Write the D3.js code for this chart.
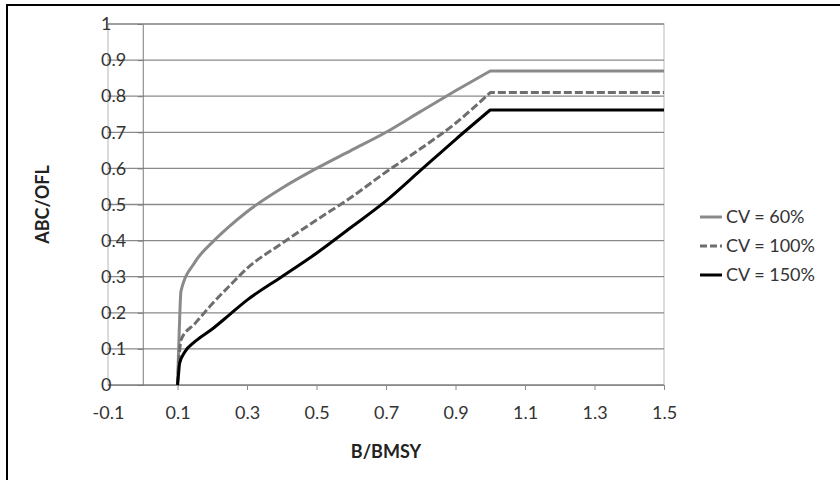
<!DOCTYPE html>
<html>
<head>
<meta charset="utf-8">
<script src="https://cdn.jsdelivr.net/npm/d3@7"></script>
<style>
  body { margin: 0; background: #fff; }
  text { font-family: Lato, "Open Sans", sans-serif; }
</style>
</head>
<body>
<div id="chart"></div>
<script>
// data
var seriesNames = ["CV = 60%", "CV = 100%", "CV = 150%"];

var cv60X = [0.1, 0.105, 0.11, 0.15, 0.2, 0.25, 0.3, 0.4, 0.5, 0.6, 0.7, 0.8, 0.9, 1.0, 1.5];
var cv60Y = [0, 0.15, 0.26, 0.34, 0.395, 0.44, 0.48, 0.545, 0.6, 0.65, 0.70, 0.758, 0.815, 0.87, 0.87];

var cv100X = [0.1, 0.105, 0.11, 0.15, 0.2, 0.25, 0.3, 0.4, 0.5, 0.6, 0.7, 0.8, 0.9, 1.0, 1.5];
var cv100Y = [0, 0.08, 0.125, 0.17, 0.225, 0.275, 0.323, 0.392, 0.457, 0.52, 0.59, 0.655, 0.725, 0.81, 0.81];

var cv150X = [0.1, 0.103, 0.106, 0.12, 0.15, 0.2, 0.25, 0.3, 0.4, 0.5, 0.6, 0.7, 0.8, 0.9, 1.0, 1.5];
var cv150Y = [0, 0.03, 0.06, 0.09, 0.12, 0.155, 0.195, 0.235, 0.3, 0.365, 0.437, 0.51, 0.595, 0.68, 0.762, 0.762];

var xTicks = [-0.1, 0.1, 0.3, 0.5, 0.7, 0.9, 1.1, 1.3, 1.5];
var yTicks = [0, 0.1, 0.2, 0.3, 0.4, 0.5, 0.6, 0.7, 0.8, 0.9, 1];

var svgWidth = 840;
var svgHeight = 480;
var fontSize = "18px";

var margin = { top: 24, right: 176, bottom: 95, left: 108 };
var width = svgWidth - margin.left - margin.right;
var height = svgHeight - margin.top - margin.bottom;

var svg = d3.select("#chart")
  .append("svg")
  .attr("width", svgWidth)
  .attr("height", svgHeight);

// outer chart frame (runs off the right and bottom edge)
svg.append("rect")
  .attr("x", 7)
  .attr("y", 5)
  .attr("width", 900)
  .attr("height", 600)
  .attr("fill", "none")
  .attr("stroke", "#000")
  .attr("stroke-width", 2);

var chartGroup = svg.append("g")
  .attr("transform", `translate(${margin.left}, ${margin.top})`);

var xScale = d3.scaleLinear().domain([-0.1, 1.5]).range([0, width]);
var yScale = d3.scaleLinear().domain([0, 1]).range([height, 0]);

// plot area border
chartGroup.append("rect")
  .attr("width", width)
  .attr("height", height)
  .attr("fill", "none")
  .attr("stroke", "#b8b8b8")
  .attr("stroke-width", 1);

// horizontal gridlines
chartGroup.selectAll(".grid")
  .data(yTicks)
  .enter()
  .append("line")
  .attr("class", "grid")
  .attr("x1", 0)
  .attr("x2", width)
  .attr("y1", d => yScale(d))
  .attr("y2", d => yScale(d))
  .attr("stroke", "#8a8a8a")
  .attr("stroke-width", 1.3);

// x axis
var bottomAxis = d3.axisBottom(xScale)
  .tickValues(xTicks)
  .tickSize(5)
  .tickSizeOuter(0)
  .tickFormat(d => String(d));

var xAxisG = chartGroup.append("g")
  .attr("transform", `translate(0, ${height})`)
  .call(bottomAxis);
xAxisG.select(".domain").attr("stroke", "#8a8a8a");
xAxisG.selectAll(".tick line").attr("stroke", "#8a8a8a")
  .filter(d => d < 0).remove();
xAxisG.selectAll(".tick text")
  .attr("y", 21)
  .attr("dy", "0.71em")
  .attr("fill", "#333")
  .style("font-size", fontSize);

// y axis crossing at x = 0, labels left-aligned against the plot edge
var leftAxis = d3.axisLeft(yScale)
  .tickValues(yTicks)
  .tickSize(5)
  .tickSizeOuter(0)
  .tickFormat(d => String(d));

var yAxisG = chartGroup.append("g")
  .attr("transform", `translate(${xScale(0)}, 0)`)
  .call(leftAxis);
yAxisG.select(".domain").attr("stroke", "#7a7a7a");
yAxisG.selectAll(".tick line").attr("stroke", "#7a7a7a");
yAxisG.selectAll(".tick text")
  .attr("x", 101 - margin.left - xScale(0))
  .attr("text-anchor", "start")
  .attr("fill", "#333")
  .style("font-size", fontSize);

// series lines: smooth rise up to B/BMSY = 1, then a flat segment
var seriesData = [
  cv60X.map((x, i) => ({ x: x, y: cv60Y[i] })),
  cv100X.map((x, i) => ({ x: x, y: cv100Y[i] })),
  cv150X.map((x, i) => ({ x: x, y: cv150Y[i] }))
];
var seriesStyle = [
  { color: "#8a8a8a", dash: null },
  { color: "#6e6e6e", dash: "8,3" },
  { color: "#000000", dash: null }
];

var riseLine = d3.line()
  .x(d => xScale(d.x))
  .y(d => yScale(d.y))
  .curve(d3.curveMonotoneX);

function seriesPath(pts) {
  var rise = pts.filter(p => p.x <= 1);
  var flat = pts.filter(p => p.x > 1);
  var d = riseLine(rise);
  flat.forEach(function(p) {
    d += "L" + xScale(p.x) + "," + yScale(p.y);
  });
  return d;
}

chartGroup.selectAll(".series")
  .data(seriesData)
  .enter()
  .append("path")
  .attr("class", "series")
  .attr("d", seriesPath)
  .attr("fill", "none")
  .attr("stroke", (d, i) => seriesStyle[i].color)
  .attr("stroke-width", 3)
  .attr("stroke-dasharray", (d, i) => seriesStyle[i].dash)
  .attr("stroke-linejoin", "round");

// axis titles
svg.append("text")
  .attr("transform", `translate(49, ${margin.top + height / 2}) rotate(-90)`)
  .attr("text-anchor", "middle")
  .style("font-size", fontSize)
  .style("font-weight", "bold")
  .attr("fill", "#222")
  .text("ABC/OFL");

svg.append("text")
  .attr("x", margin.left + width / 2)
  .attr("y", 458)
  .attr("text-anchor", "middle")
  .style("font-size", fontSize)
  .style("font-weight", "bold")
  .attr("fill", "#222")
  .text("B/BMSY");

// legend
var legend = svg.append("g")
  .attr("transform", "translate(700, 217)");

var entries = legend.selectAll(".entry")
  .data(seriesNames)
  .enter()
  .append("g")
  .attr("class", "entry")
  .attr("transform", (d, i) => `translate(0, ${i * 29})`);

entries.append("line")
  .attr("x1", 0)
  .attr("x2", 22)
  .attr("stroke", (d, i) => seriesStyle[i].color)
  .attr("stroke-width", 3)
  .attr("stroke-dasharray", (d, i) => seriesStyle[i].dash ? "7,3" : null);

entries.append("text")
  .attr("x", 26)
  .attr("dy", "0.35em")
  .style("font-size", fontSize)
  .attr("fill", "#333")
  .text(d => d);
</script>
</body>
</html>
